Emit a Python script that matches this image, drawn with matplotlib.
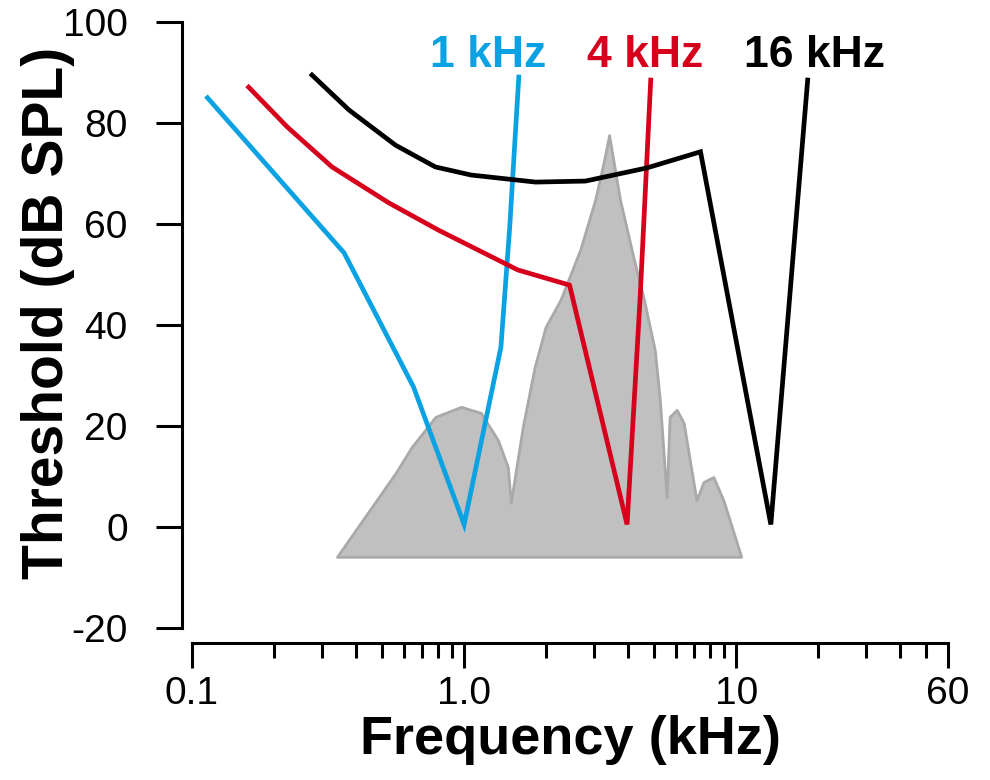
import numpy as np
import matplotlib
matplotlib.use("Agg")
import matplotlib.pyplot as plt

plt.rcParams['font.family'] = ['Liberation Sans', 'DejaVu Sans']
plt.rcParams['axes.unicode_minus'] = False

# tuning curves (kHz, dB SPL)
f1k = [0.114, 0.362, 0.652, 1.0, 1.365, 1.47, 1.588]
db1k = [85.0, 54.3, 27.7, 0.5, 35.6, 59.2, 89.1]

f4k = [0.1615, 0.224, 0.327, 0.528, 0.804, 1.575, 2.44, 3.97, 4.43, 4.85]
db4k = [87.1, 79.2, 71.3, 64.2, 58.8, 50.9, 47.9, 0.5, 45.0, 88.5]

f16k = [0.276, 0.377, 0.560, 0.784, 1.06, 1.83, 2.79, 4.69, 7.39, 13.4, 18.3]
db16k = [89.5, 82.6, 75.6, 71.3, 69.7, 68.3, 68.5, 71.1, 74.3, 0.5, 88.5]

# sound spectrum (grey)
spec_f = [0.341, 0.560, 0.641, 0.784, 0.975, 1.153, 1.331, 1.447, 1.484, 1.642,
          1.816, 1.991, 2.26, 2.67, 3.03, 3.27, 3.41, 3.74, 4.21, 4.58, 5.02,
          5.24, 5.55, 5.69, 6.04, 6.41, 7.14, 7.58, 8.24, 8.97, 10.43]
spec_db = [-5.9, 10.7, 15.8, 21.8, 23.8, 22.6, 17.2, 11.9, 4.8, 19.8,
           31.7, 39.6, 45.0, 54.9, 64.8, 72.7, 77.6, 64.8, 52.9, 45.0, 35.0,
           25.1, 5.9, 21.8, 23.2, 20.6, 5.3, 8.9, 9.9, 5.3, -5.9]
spec_base = -5.9

labels = ['1 kHz', '4 kHz', '16 kHz']
label_x = [1.224, 4.64, 19.4]
colors = ['#0AA2E2', '#D6001C', 'black']

xticks = [0.1, 1.0, 10, 60]
xticklabels = ['0.1', '1.0', '10', '60']
yticks = [-20, 0, 20, 40, 60, 80, 100]

fig = plt.figure(figsize=(9.9, 7.8), dpi=100)
ax = fig.add_axes([192/990, 152/780, 756/990, 606/780])

ax.fill_between(spec_f, spec_base, spec_db, facecolor='#C0C0C0',
                edgecolor='#A9A9A9', linewidth=2, zorder=1)

for fx, dbx, c in [(f1k, db1k, colors[0]), (f4k, db4k, colors[1]), (f16k, db16k, colors[2])]:
    ax.plot(fx, dbx, color=c, lw=3.4, solid_joinstyle='miter', zorder=3)

for t, lx, c in zip(labels, label_x, colors):
    ax.text(lx, 91, t, color=c, fontsize=32, fontweight='bold',
            ha='center', va='baseline', clip_on=False)

ax.set_xscale('log')
ax.set_xlim(0.1, 60)
ax.set_ylim(-20, 100)

ax.set_xticks(xticks)
ax.set_xticklabels(xticklabels)
minor = [v * d for d in (0.1, 1, 10) for v in range(2, 10) if v * d < 60]
ax.set_xticks(minor, minor=True)
ax.xaxis.set_minor_formatter(matplotlib.ticker.NullFormatter())
ax.set_yticks(yticks)

for s in ['top', 'right']:
    ax.spines[s].set_visible(False)
ax.spines['left'].set_position(('outward', 7.2))
ax.spines['bottom'].set_position(('outward', 10.8))
ax.spines['left'].set_bounds(-20, 100)
ax.spines['bottom'].set_bounds(0.1, 60)
for s in ['left', 'bottom']:
    ax.spines[s].set_linewidth(2.2)

ax.tick_params(axis='y', which='major', length=19, width=2.2, pad=20, labelsize=28)
ax.tick_params(axis='x', which='major', length=18, width=2.2, pad=6, labelsize=28)
ax.tick_params(axis='x', which='minor', length=11, width=2.2)

ax.set_xlabel('Frequency (kHz)', fontsize=39, fontweight='bold', labelpad=2)
ax.set_ylabel('Threshold (dB SPL)', fontsize=41, fontweight='bold')
ax.yaxis.set_label_coords(-0.155, 0.52)

fig.savefig('out.png', dpi=100)
